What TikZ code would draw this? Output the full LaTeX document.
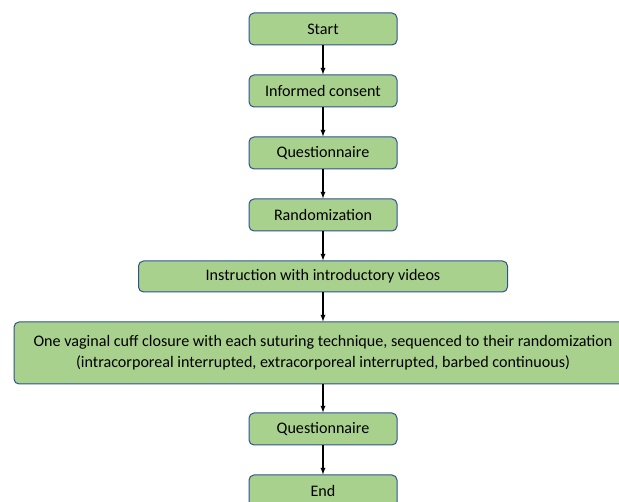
\documentclass[tikz,border=0pt]{standalone}
\usepackage{fontspec}
\setmainfont{Carlito}
\definecolor{boxgreen}{HTML}{A9D18E}
\definecolor{boxline}{HTML}{2F528F}
\begin{document}
\begin{tikzpicture}[x=1pt, y=-1pt,
  stepbox/.style={draw=boxline, line width=1pt, fill=boxgreen, rounded corners=5pt,
    minimum width=148pt, minimum height=32pt, inner sep=0pt, align=center,
    font=\fontsize{16.1}{21}\selectfont},
  link/.style={->, >=latex, line width=1.3pt}]

% Frame of the picture
\useasboundingbox (0,0) rectangle (619,502);
\clip (0,0) rectangle (619,502);

% The steps, one under the other
\node [stepbox] (start) at (323,29)  {Start};
\node [stepbox] (consent) at (323,91)  {Informed consent};
\node [stepbox] (quest1) at (323,153) {Questionnaire};
\node [stepbox] (random) at (323,215) {Randomization};
\node [stepbox, minimum width=369pt, minimum height=31pt] (instr) at (323,276.5) {Instruction with introductory videos};
\node [stepbox, minimum width=618pt, minimum height=62pt] (closure) at (323,353)
  {One vaginal cuff closure with each suturing technique, sequenced to their randomization\\
   (intracorporeal interrupted, extracorporeal interrupted, barbed continuous)};
\node [stepbox] (quest2) at (323,429) {Questionnaire};
\node [stepbox] (finish) at (323,491) {End};

% Arrows between the steps
\foreach \a/\b in {start/consent, consent/quest1, quest1/random, random/instr,
                   instr/closure, closure/quest2, quest2/finish}
  \draw [link] (\a.south) -- (\b.north);

\end{tikzpicture}
\end{document}
